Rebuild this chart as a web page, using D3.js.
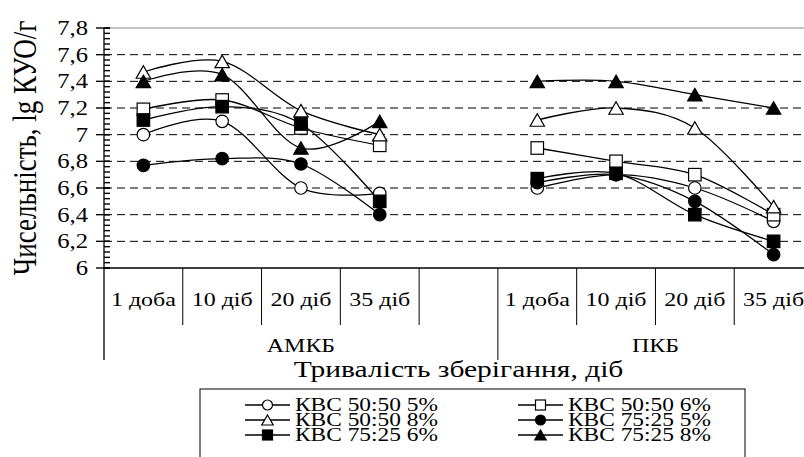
<!DOCTYPE html>
<html>
<head>
<meta charset="utf-8">
<script src="https://cdn.jsdelivr.net/npm/d3@7"></script>
<style>
  body { margin: 0; background: #fff; }
  svg { display: block; }
  text { font-family: "Liberation Serif", "Times New Roman", serif; fill: #000; }
</style>
</head>
<body>
<div id="chart"></div>
<script>
'use strict';

// categories on the x axis
var periods = ["1 доба", "10 діб", "20 діб", "35 діб"];
var groups = ["АМКБ", "ПКБ"];
var seriesNames = ["КВС 50:50 5%", "КВС 50:50 6%", "КВС 50:50 8%", "КВС 75:25 5%", "КВС 75:25 6%", "КВС 75:25 8%"];
var seriesSymbols = ["circle", "square", "triangle", "circle", "square", "triangle"];
var seriesFilled = [false, false, false, true, true, true];

// values, lg КУО/г, one row per series
var amkbValues = [
  [7.0, 7.1, 6.6, 6.56],
  [7.19, 7.26, 7.05, 6.92],
  [7.47, 7.55, 7.18, 7.0],
  [6.77, 6.82, 6.78, 6.4],
  [7.11, 7.21, 7.08, 6.5],
  [7.4, 7.45, 6.9, 7.1]
];
var pkbValues = [
  [6.6, 6.7, 6.6, 6.35],
  [6.9, 6.8, 6.7, 6.4],
  [7.11, 7.2, 7.05, 6.46],
  [6.64, 6.7, 6.5, 6.1],
  [6.67, 6.71, 6.4, 6.2],
  [7.4, 7.4, 7.3, 7.2]
];
var yTicks = [6, 6.2, 6.4, 6.6, 6.8, 7, 7.2, 7.4, 7.6, 7.8];

var W = 804, H = 457;
var sx = 1.23; // the original picture is stretched sideways
var plot = { left: 104, right: 813, top: 28, bottom: 268 };

// 5 slots for АМКБ (last one empty), 4 for ПКБ
var slots = [];
periods.forEach(function (p, i) { slots.push("a" + i); });
slots.push("gap");
periods.forEach(function (p, i) { slots.push("p" + i); });

var x = d3.scaleBand().domain(slots).range([plot.left, plot.right]);
var y = d3.scaleLinear().domain([6, 7.8]).range([plot.bottom, plot.top]);

var svg = d3.select("#chart").append("svg")
  .attr("width", W)
  .attr("height", H);

function fmt(v) {
  return Math.abs(v - Math.round(v)) < 1e-9 ? String(Math.round(v)) : d3.format(".1f")(v).replace(".", ",");
}

function putText(g, str, tx, ty, size, anchor, stretch) {
  return g.append("text")
    .attr("transform", "translate(" + tx + "," + ty + ") scale(" + (stretch || sx) + ",1)")
    .attr("text-anchor", anchor || "middle")
    .style("font-size", size + "px")
    .text(str);
}

// grid lines
svg.append("g").selectAll("line")
  .data(yTicks.filter(function (d) { return d > 6 && d < 7.8; }))
  .enter().append("line")
  .attr("x1", plot.left).attr("x2", W)
  .attr("y1", function (d) { return y(d); })
  .attr("y2", function (d) { return y(d); })
  .attr("stroke", "#000")
  .attr("stroke-width", 1)
  .attr("stroke-dasharray", "8,5");

svg.append("line")
  .attr("x1", plot.left).attr("x2", W)
  .attr("y1", y(7.8)).attr("y2", y(7.8))
  .attr("stroke", "#888").attr("stroke-width", 1.2);

// y axis with minor ticks
var yAxis = svg.append("g");
yAxis.append("line")
  .attr("x1", plot.left).attr("x2", plot.left)
  .attr("y1", plot.top).attr("y2", 360)
  .attr("stroke", "#000").attr("stroke-width", 1.3);

var minor = d3.range(0, 46).map(function (i) { return 6 + i * 0.04; });
yAxis.selectAll("line.minor")
  .data(minor)
  .enter().append("line")
  .attr("class", "minor")
  .attr("x1", plot.left).attr("x2", plot.left + 6)
  .attr("y1", function (d) { return y(d); })
  .attr("y2", function (d) { return y(d); })
  .attr("stroke", "#000").attr("stroke-width", 1.4);

yAxis.selectAll("line.major")
  .data(yTicks)
  .enter().append("line")
  .attr("class", "major")
  .attr("x1", plot.left - 8).attr("x2", plot.left + 6)
  .attr("y1", function (d) { return y(d); })
  .attr("y2", function (d) { return y(d); })
  .attr("stroke", "#000").attr("stroke-width", 1.4);

yTicks.forEach(function (t) {
  putText(yAxis, fmt(t), 88, y(t) + 7, 20, "end");
});

// x axis line and category boxes
var xAxis = svg.append("g");
xAxis.append("line")
  .attr("x1", plot.left).attr("x2", W)
  .attr("y1", plot.bottom).attr("y2", plot.bottom)
  .attr("stroke", "#000").attr("stroke-width", 1.3);

slots.forEach(function (s, i) {
  if (i === 0) return;
  var bx = x(s);
  xAxis.append("line")
    .attr("x1", bx).attr("x2", bx)
    .attr("y1", plot.bottom).attr("y2", s === "p0" ? 360 : 325)
    .attr("stroke", "#000").attr("stroke-width", 1);
});
xAxis.append("line")
  .attr("x1", plot.right).attr("x2", plot.right)
  .attr("y1", plot.bottom).attr("y2", 360)
  .attr("stroke", "#000").attr("stroke-width", 1);

periods.forEach(function (p, i) {
  putText(xAxis, p, x("a" + i) + x.bandwidth() / 2, 306, 19.5);
  putText(xAxis, p, x("p" + i) + x.bandwidth() / 2, 306, 19.5);
});
putText(xAxis, groups[0], (x("a0") + x("p0")) / 2, 352, 19.5);
putText(xAxis, groups[1], (x("p0") + plot.right) / 2, 352, 19.5);

// axis titles
putText(svg, "Тривалість зберігання, діб", (plot.left + plot.right) / 2, 377, 24);
svg.append("text")
  .attr("transform", "translate(36," + ((plot.top + plot.bottom) / 2) + ") scale(" + sx + ",1) rotate(-90)")
  .attr("text-anchor", "middle")
  .style("font-size", "27px")
  .text("Чисельність, lg КУО/г");

// markers
function drawMarker(g, kind, filled, cx, cy, size) {
  var fill = filled ? "#000" : "#fff";
  var m;
  if (kind === "circle") {
    m = g.append("circle").attr("cx", cx).attr("cy", cy).attr("r", size / 2);
  } else if (kind === "square") {
    m = g.append("rect").attr("x", cx - size / 2).attr("y", cy - size / 2)
      .attr("width", size).attr("height", size);
  } else {
    var w = size * 1.15, h = size;
    m = g.append("path")
      .attr("d", "M" + cx + "," + (cy - h / 2) + "L" + (cx + w / 2) + "," + (cy + h / 2) +
        "L" + (cx - w / 2) + "," + (cy + h / 2) + "Z");
  }
  m.attr("fill", fill).attr("stroke", "#000").attr("stroke-width", 1.2);
}

var line = d3.line()
  .x(function (d) { return d.x; })
  .y(function (d) { return d.y; })
  .curve(d3.curveCatmullRom.alpha(0));

var lines = svg.append("g");
var marks = svg.append("g");

seriesNames.forEach(function (name, si) {
  [["a", amkbValues[si]], ["p", pkbValues[si]]].forEach(function (part) {
    var pts = part[1].map(function (v, i) {
      return { x: x(part[0] + i) + x.bandwidth() / 2, y: y(v) };
    });
    lines.append("path")
      .attr("d", line(pts))
      .attr("fill", "none")
      .attr("stroke", "#000")
      .attr("stroke-width", 1.3);
    pts.forEach(function (p) {
      drawMarker(marks, seriesSymbols[si], seriesFilled[si], p.x, p.y, 12.5);
    });
  });
});

// legend
var legend = svg.append("g");
legend.append("rect")
  .attr("x", 200).attr("y", 389)
  .attr("width", 545).attr("height", 80)
  .attr("fill", "#fff").attr("stroke", "#000").attr("stroke-width", 1);

var legCols = [245, 518];
var legRows = [405, 420, 435];
seriesNames.forEach(function (name, si) {
  var lx = legCols[si % 2], ly = legRows[Math.floor(si / 2)];
  legend.append("line")
    .attr("x1", lx).attr("x2", lx + 45)
    .attr("y1", ly).attr("y2", ly)
    .attr("stroke", "#000").attr("stroke-width", 1.3);
  drawMarker(legend, seriesSymbols[si], seriesFilled[si], lx + 22.5, ly, 10);
  putText(legend, name, lx + 50, ly + 6, 18, "start", 1.3);
});
</script>
</body>
</html>
